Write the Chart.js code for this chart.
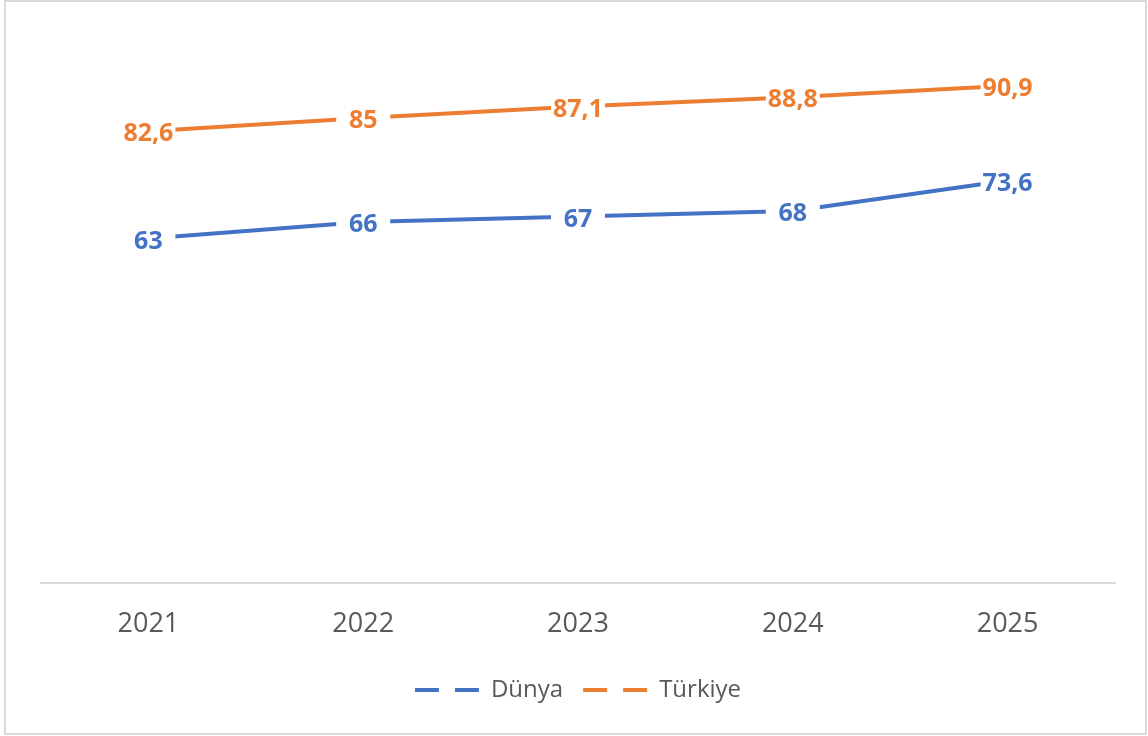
<!DOCTYPE html>
<html>
<head>
<meta charset="utf-8">
<script src="https://cdn.jsdelivr.net/npm/chart.js@4"></script>
<style>
    html, body { margin: 0; padding: 0; background: #fff; }
    #frame { position: absolute; left: 4px; top: 0; width: 1139px; height: 731px; border: 2px solid #d9d9d9; }
    #wrap { position: absolute; left: 0; top: 0; width: 1148px; height: 736px; }
</style>
</head>
<body>
<div id="frame"></div>
<div id="wrap"><canvas id="lineChart"></canvas></div>
<script>
var years = ["2021", "2022", "2023", "2024", "2025"];
var dunya = [63, 66, 67, 68, 73.6];
var turkiye = [82.6, 85, 87.1, 88.8, 90.9];
var seriesNames = ["Dünya", "Türkiye"];
var seriesColors = ["#4472C4", "#ED7D31"];

Chart.defaults.font.family = '"Open Sans", sans-serif';

// labels sit on top of the points with a white box behind them
var pointLabels = {
    id: 'pointLabels',
    afterDatasetsDraw: function (chart) {
        var ctx = chart.ctx;
        ctx.save();
        ctx.font = 'bold 25px "Open Sans"';
        ctx.textAlign = 'center';
        ctx.textBaseline = 'middle';
        chart.data.datasets.forEach(function (ds, i) {
            var meta = chart.getDatasetMeta(i);
            meta.data.forEach(function (pt, j) {
                ctx.fillStyle = '#ffffff';
                ctx.fillRect(pt.x - 27, pt.y - 15, 54, 30);
                ctx.fillStyle = ds.borderColor;
                ctx.fillText(String(ds.data[j]).replace('.', ','), pt.x, pt.y + 3);
            });
        });
        ctx.restore();
    }
};

var ctx = document.getElementById('lineChart').getContext('2d');
var chart = new Chart(ctx, {
    type: 'line',
    data: {
        labels: years,
        datasets: [{
            label: seriesNames[0],
            data: dunya,
            borderColor: seriesColors[0],
            backgroundColor: seriesColors[0],
            borderWidth: 4,
            pointRadius: 0,
            tension: 0
        }, {
            label: seriesNames[1],
            data: turkiye,
            borderColor: seriesColors[1],
            backgroundColor: seriesColors[1],
            borderWidth: 4,
            pointRadius: 0,
            tension: 0
        }]
    },
    options: {
        responsive: true,
        maintainAspectRatio: false,
        animation: false,
        layout: {
            padding: { left: 41, right: 33, top: 36, bottom: 24 }
        },
        scales: {
            x: {
                offset: true,
                grid: { display: false, drawTicks: false },
                border: { color: '#d9d9d9', width: 2 },
                ticks: {
                    color: '#595959',
                    font: { size: 27 },
                    padding: 25
                },
                afterFit: function (scale) { scale.height = 75; }
            },
            y: {
                display: false,
                min: 0,
                max: 100
            }
        },
        plugins: {
            tooltip: { enabled: false },
            legend: {
                position: 'bottom',
                labels: {
                    color: '#595959',
                    font: { size: 24 },
                    usePointStyle: true,
                    pointStyleWidth: 64,
                    padding: 20,
                    generateLabels: function (chart) {
                        var items = Chart.defaults.plugins.legend.labels.generateLabels(chart);
                        items.forEach(function (item) {
                            item.pointStyle = 'line';
                            item.lineDash = [24, 16];
                            item.lineWidth = 4;
                        });
                        return items;
                    }
                }
            }
        }
    },
    plugins: [pointLabels]
});
</script>
</body>
</html>
